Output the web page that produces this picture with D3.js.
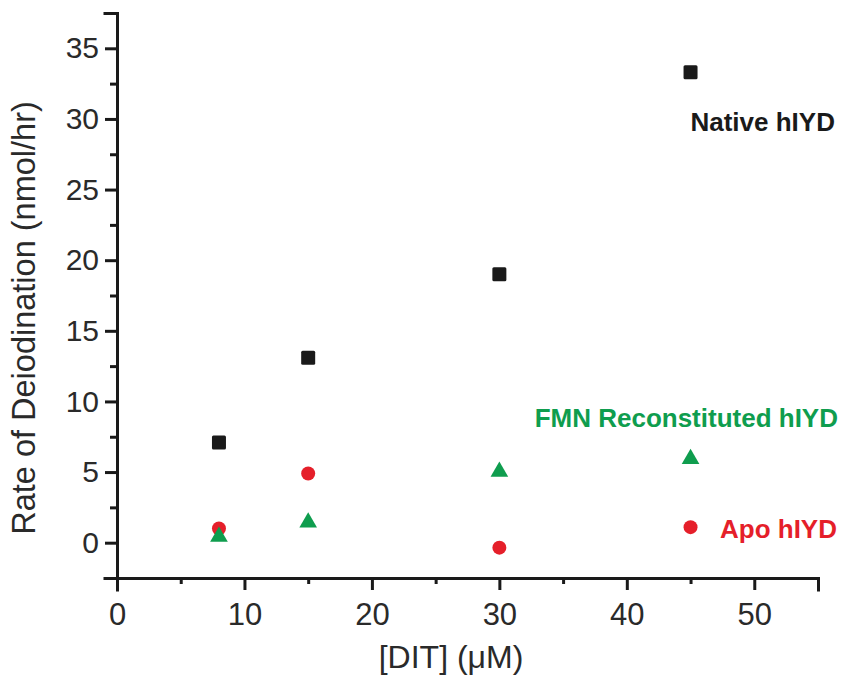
<!DOCTYPE html>
<html>
<head>
<meta charset="utf-8">
<script src="https://cdn.jsdelivr.net/npm/d3@7"></script>
<style>
  body { margin: 0; background: #fff; }
  text { font-family: "Liberation Sans", Arial, Helvetica, sans-serif; }
</style>
</head>
<body>
<div id="chart"></div>
<script>
var width = 843;
var height = 681;

// DIT concentration (uM)
var dit = [8, 15, 30, 45];
// rate of deiodination (nmol/hr)
var nativeRate = [7.1, 13.1, 19.0, 33.3];
var fmnRate = [0.5, 1.5, 5.1, 6.0];
var apoRate = [1.0, 4.9, -0.35, 1.1];

var yMajor = [0, 5, 10, 15, 20, 25, 30, 35];
var xMajor = [0, 10, 20, 30, 40, 50];

var ink = "#1a1a1a";
var red = "#e51f2a";
var green = "#0f9d4e";

var svg = d3.select("#chart")
  .append("svg")
  .attr("width", width)
  .attr("height", height);

var xscale = d3.scaleLinear().domain([0, 55]).range([117, 818]);
var yscale = d3.scaleLinear().domain([-2.5, 37.5]).range([578, 13]);

// y axis, ticks every 2.5, labels every 5
var yaxis = d3.axisLeft(yscale)
  .tickValues(d3.range(-2.5, 37.6, 2.5))
  .tickSizeOuter(0)
  .tickSize(12)
  .tickPadding(6)
  .tickFormat(function (d) { return yMajor.indexOf(d) >= 0 ? d : ""; });

var gy = svg.append("g")
  .attr("transform", "translate(" + xscale(0) + ",0)")
  .call(yaxis);
gy.selectAll(".tick line")
  .attr("x2", function (d) { return yMajor.indexOf(d) >= 0 ? -12 : -7; });

// x axis, ticks every 5, labels every 10
var xaxis = d3.axisBottom(xscale)
  .tickValues(d3.range(0, 55.1, 5))
  .tickSizeOuter(0)
  .tickSize(12)
  .tickPadding(13)
  .tickFormat(function (d) { return xMajor.indexOf(d) >= 0 ? d : ""; });

var gx = svg.append("g")
  .attr("transform", "translate(0," + yscale(-2.5) + ")")
  .call(xaxis);
gx.selectAll(".tick line")
  .attr("y2", function (d) { return xMajor.indexOf(d) >= 0 ? 12 : 6; });

[gx, gy].forEach(function (g) {
  g.selectAll("path.domain").attr("stroke", ink).attr("stroke-width", 3).attr("stroke-linecap", "square");
  g.selectAll(".tick line").attr("stroke", ink).attr("stroke-width", 3);
  g.selectAll(".tick text").attr("fill", "#2a2a2a");
});
gy.selectAll(".tick text").style("font-size", "30px");
gx.selectAll(".tick text").style("font-size", "31px");

// axis titles
svg.append("text")
  .attr("transform", "translate(35," + 318 + ") rotate(-90)")
  .attr("text-anchor", "middle")
  .attr("fill", "#2a2a2a")
  .style("font-size", "32.5px")
  .text("Rate of Deiodination (nmol/hr)");

svg.append("text")
  .attr("x", 451)
  .attr("y", 668)
  .attr("text-anchor", "middle")
  .attr("fill", "#2a2a2a")
  .style("font-size", "32px")
  .text("[DIT] (\u03bcM)");

// native: squares
svg.selectAll(".native")
  .data(dit)
  .enter()
  .append("rect")
  .attr("x", function (d) { return xscale(d) - 7; })
  .attr("y", function (d, i) { return yscale(nativeRate[i]) - 7; })
  .attr("width", 14)
  .attr("height", 14)
  .attr("rx", 1.5)
  .attr("fill", ink);

// apo: circles
svg.selectAll(".apo")
  .data(dit)
  .enter()
  .append("circle")
  .attr("cx", function (d) { return xscale(d); })
  .attr("cy", function (d, i) { return yscale(apoRate[i]); })
  .attr("r", 7)
  .attr("fill", red);

// FMN reconstituted: triangles
var tri = d3.symbol().type(d3.symbolTriangle).size(135);
svg.selectAll(".fmn")
  .data(dit)
  .enter()
  .append("path")
  .attr("d", tri)
  .attr("transform", function (d, i) {
    return "translate(" + xscale(d) + "," + (yscale(fmnRate[i]) + 1) + ")";
  })
  .attr("fill", green);

// series labels
var labelText = ["Native hIYD", "FMN Reconstituted hIYD", "Apo hIYD"];
var labelColor = [ink, green, red];
var labelX = [56.33, 56.57, 56.49];
var labelY = [29.15, 8.19, 0.33];

svg.selectAll(".lab")
  .data(labelText)
  .enter()
  .append("text")
  .attr("x", function (d, i) { return xscale(labelX[i]); })
  .attr("y", function (d, i) { return yscale(labelY[i]); })
  .attr("text-anchor", "end")
  .attr("fill", function (d, i) { return labelColor[i]; })
  .style("font-size", "26px")
  .style("font-weight", "bold")
  .text(function (d) { return d; });
</script>
</body>
</html>
